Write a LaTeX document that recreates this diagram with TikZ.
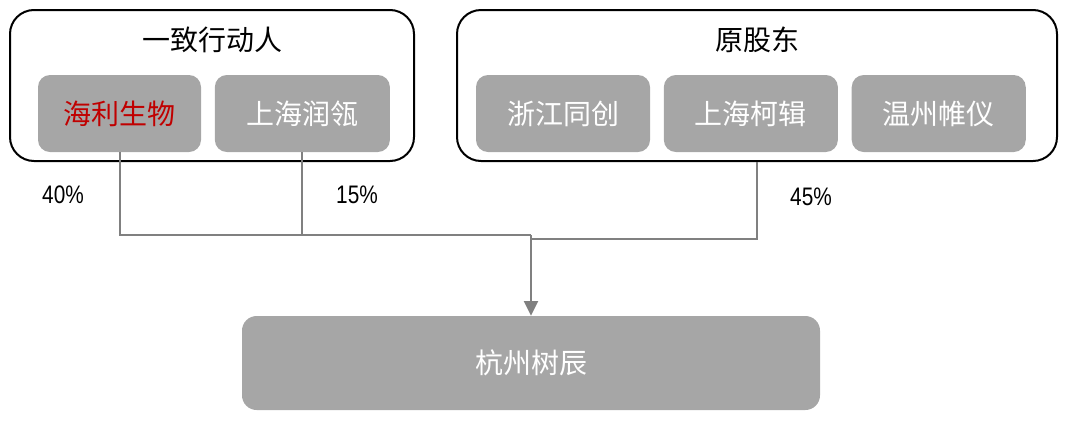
\documentclass[tikz,border=0pt]{standalone}
\usepackage{fontspec}
\newfontfamily\cjk{Noto Sans CJK SC}
\newfontfamily\pct[FakeStretch=0.82]{Liberation Sans}
\usepackage{xcolor}
\usepackage{tikz}
\usetikzlibrary{arrows.meta, positioning}

\definecolor{boxgray}{HTML}{A6A6A6}
\definecolor{linegray}{HTML}{808080}
\definecolor{hlred}{HTML}{C00000}

\tikzset{
  group/.style={draw=black, line width=1.5pt, rounded corners=18pt, minimum height=113.25pt},
  firm/.style={fill=boxgray, text=white, rounded corners=9pt, minimum height=57.75pt,
    font=\cjk\fontsize{21}{25}\selectfont},
  title/.style={font=\cjk\fontsize{21}{25}\selectfont},
  share/.style={font=\pct\fontsize{19}{22}\selectfont},
  link/.style={draw=linegray, line width=1.5pt},
}

\begin{document}
\begin{tikzpicture}[x=0.75pt, y=-0.75pt, node distance=10pt]
\useasboundingbox (0,0) rectangle (1066,422);

% Gruppen
\node[group, minimum width=303pt] (g1) at (212,85.5) {};
\node[group, minimum width=450pt] (g2) at (757,85.5) {};
\node[title] (t1) at (212,40) {一致行动人};
\node[title] (t2) at (757,40) {原股东};

% Firmen
\node[firm, minimum width=122.25pt, text=hlred] (hl) at (119.5,113.5) {海利生物};
\node[firm, minimum width=131.25pt, right=of hl] (rl) {上海润瓴};
\node[firm, minimum width=130.5pt] (zj) at (563,113.5) {浙江同创};
\node[firm, minimum width=130.5pt, right=of zj] (kj) {上海柯辑};
\node[firm, minimum width=130.5pt, right=of kj] (wz) {温州帷仪};
\node[firm, minimum width=433.5pt, minimum height=70.5pt, rounded corners=11pt] (hz) at (531,363) {杭州树辰};

% Anteile
\node[share] (p1) at (63,195) {40\%};
\node[share] (p2) at (357,195) {15\%};
\node[share] (p3) at (811,197) {45\%};

% Verbindungen
\coordinate (j1) at (531,235);
\coordinate (j2) at (531,239);
\path[link] (hl.south) |- (j1);
\path[link] (rl.south) |- (j1);
\path[link] (g2.south) |- (j2);
\path[link, -{Triangle[width=10.5pt,length=11pt]}, color=linegray] (j1) -- (hz.north);
\end{tikzpicture}
\end{document}
